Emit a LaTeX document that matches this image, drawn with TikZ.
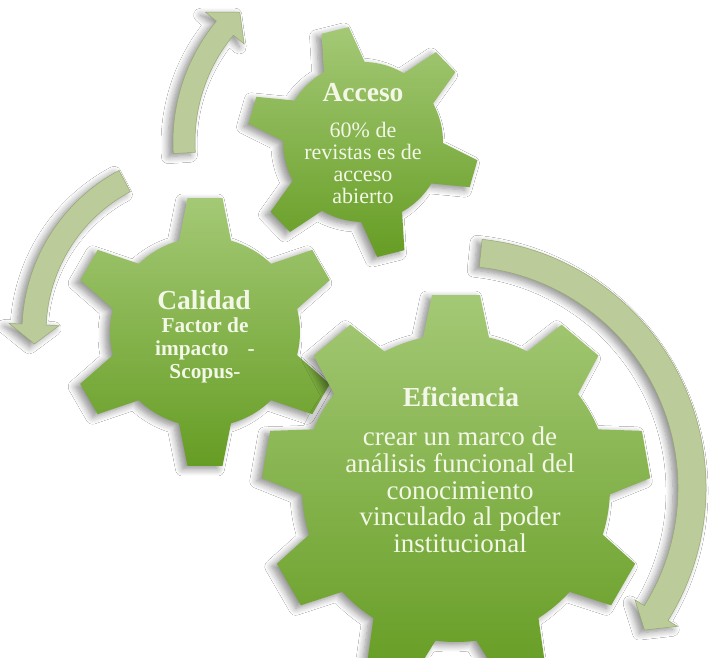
\documentclass[tikz,border=0pt]{standalone}
\usepackage{fontspec}
\setmainfont{Liberation Serif}
\usetikzlibrary{shadows.blur}
\definecolor{gtop}{RGB}{164,201,118}
\definecolor{gbot}{RGB}{102,157,36}
\definecolor{arrfill}{RGB}{188,203,154}
\definecolor{arrline}{RGB}{150,168,115}
\definecolor{txt}{RGB}{243,247,231}
\tikzset{
  softshadow/.style={blur shadow={shadow xshift=-5pt, shadow yshift=-3pt, shadow blur radius=7pt, shadow blur steps=8, shadow opacity=45}},
  gearbody/.style={top color=gtop, bottom color=gbot, softshadow},
  arrowbody/.style={fill=arrfill, draw=arrline, line width=0.5pt, softshadow},
  gtitle/.style={text=txt, font=\fontsize{27.5}{30}\selectfont\bfseries, inner sep=0pt},
  gtext/.style={text=txt, align=center, inner sep=0pt},
}
% gear: cx, cy, teeth, R, r, half width top, half width base, offset angle
\newcommand\drawgear[8]{%
  \pgfmathsetmacro\gAb{asin(#7/#5)}%
  \pgfmathsetmacro\gAt{atan(#6/#4)}%
  \pgfmathsetmacro\gRt{#4*sqrt(1+(#6/#4)*(#6/#4))}%
  \pgfmathsetmacro\gS{360/#3}%
  \pgfmathtruncatemacro\gN{#3-1}%
  \pgfmathsetmacro\gStart{#8-\gAb}%
  \path[gearbody,shift={(#1,#2)}] (\gStart:#5pt)
    \foreach \k [evaluate=\k as \ga using {#8+\k*\gS-\gAt},
                 evaluate=\k as \gb using {#8+\k*\gS+\gAt},
                 evaluate=\k as \gc using {#8+\k*\gS+\gAb},
                 evaluate=\k as \gd using {#8+(\k+1)*\gS-\gAb}] in {0,...,\gN}
    { -- (\ga:\gRt pt) -- (\gb:\gRt pt) -- (\gc:#5pt) arc[start angle=\gc, end angle=\gd, radius=#5pt] } -- cycle;
}
% circular arrow: cx, cy, mid radius, half width, tail angle, head base angle, tip angle, head half width
\newcommand\circarrow[8]{%
  \pgfmathsetmacro\aO{#3+#4}%
  \pgfmathsetmacro\aI{#3-#4}%
  \pgfmathsetmacro\hO{#3+#8}%
  \pgfmathsetmacro\hI{#3-#8}%
  \path[arrowbody,shift={(#1,#2)}] (#5:\aO pt) arc[start angle=#5, end angle=#6, radius=\aO pt]
    -- (#6:\hO pt) -- (#7:#3pt) -- (#6:\hI pt) -- (#6:\aI pt)
    arc[start angle=#6, end angle=#5, radius=\aI pt] -- cycle;
}
\begin{document}
\begin{tikzpicture}[x=1pt,y=1pt]
\useasboundingbox[fill=white] (0,0) rectangle (711,657);
% arrows
\circarrow{363}{515}{179}{11}{183.5}{140.5}{133.5}{25}
\circarrow{205}{325}{171}{12}{118}{177.5}{184}{25}
\circarrow{456}{169}{236}{14}{84}{-32}{-37}{25}
% gears
\drawgear{363}{515}{6}{115}{80}{14}{21}{44}
\drawgear{205}{325}{6}{134}{95}{17.5}{26}{30}
\drawgear{456}{169}{9}{193}{154}{24}{33}{90}
% texts
\node[gtitle] (accesoT) at (363,564) {Acceso};
\node[gtext, font=\fontsize{22}{21.7}\selectfont] (accesoB) at (363,494) {60\% de\\revistas es de\\acceso\\abierto};
\node[gtitle] (calidadT) at (204,357) {Calidad};
\node[gtext, font=\fontsize{21.3}{23}\selectfont\bfseries] (calidadB) at (205,307) {Factor de\\impacto\hspace{0.9em}-\\Scopus-};
\node[gtitle] (eficT) at (461,260) {Eficiencia};
\node[gtext, font=\fontsize{27}{26.7}\selectfont] (eficB) at (460,167) {crear un marco de\\análisis funcional del\\conocimiento\\vinculado al poder\\institucional};
\end{tikzpicture}
\end{document}
